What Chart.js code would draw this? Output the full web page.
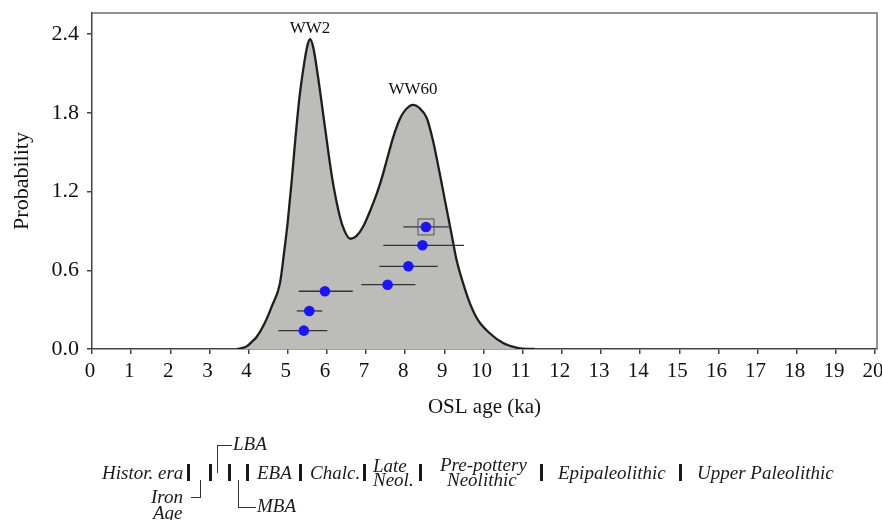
<!DOCTYPE html>
<html>
<head>
<meta charset="utf-8">
<script src="https://cdn.jsdelivr.net/npm/chart.js@4.4.1/dist/chart.umd.min.js"></script>
<style>
  html, body { margin:0; padding:0; background:#fff; }
  #wrap { position:relative; width:882px; height:520px; overflow:hidden; }
  #chart { position:absolute; left:0; top:0; }
  .per { position:absolute; font-family:'Liberation Serif','DejaVu Serif',serif; font-style:italic;
         font-size:19px; line-height:19px; color:#1a1a1a; white-space:nowrap; }
  .sep { position:absolute; width:2.8px; background:#1a1a1a; top:464px; height:17px; }
  .br  { position:absolute; border:0 solid #333; }
</style>
</head>
<body>
<div id="wrap">
  <canvas id="chart" width="882" height="520"></canvas>

  <!-- archaeological periods under the axis -->
  <span class="per" style="left:102px;top:463px">Histor. era</span>
  <span class="per" style="left:151px;top:487px">Iron</span>
  <span class="per" style="left:153px;top:503px">Age</span>
  <span class="per" style="left:233px;top:434px">LBA</span>
  <span class="per" style="left:257px;top:496px">MBA</span>
  <span class="per" style="left:257px;top:463px">EBA</span>
  <span class="per" style="left:310px;top:463px">Chalc.</span>
  <span class="per" style="left:373px;top:456px">Late</span>
  <span class="per" style="left:373px;top:470px">Neol.</span>
  <span class="per" style="left:440px;top:455px">Pre-pottery</span>
  <span class="per" style="left:447px;top:470px">Neolithic</span>
  <span class="per" style="left:558px;top:463px">Epipaleolithic</span>
  <span class="per" style="left:697px;top:463px">Upper Paleolithic</span>

  <div class="sep" style="left:187px"></div>
  <div class="sep" style="left:209px"></div>
  <div class="sep" style="left:228px"></div>
  <div class="sep" style="left:246px"></div>
  <div class="sep" style="left:299px"></div>
  <div class="sep" style="left:363px"></div>
  <div class="sep" style="left:419px"></div>
  <div class="sep" style="left:540px"></div>
  <div class="sep" style="left:679px"></div>

  <div class="br" style="left:217px;top:445px;width:14px;height:27px;border-left-width:1.3px;border-top-width:1.3px"></div>
  <div class="br" style="left:191px;top:480px;width:9px;height:17px;border-right-width:1.3px;border-bottom-width:1.3px"></div>
  <div class="br" style="left:238px;top:480px;width:17px;height:27px;border-left-width:1.3px;border-bottom-width:1.3px"></div>
</div>

<script>
const FONT = "'Liberation Serif', 'DejaVu Serif', serif";

// summed probability curve (ka, probability)
const ageGrid = [3.7, 3.8, 3.95, 4.1, 4.2, 4.4, 4.6, 4.8, 4.9, 5.0, 5.1, 5.2, 5.3, 5.4, 5.5, 5.57, 5.65, 5.77,
  5.95, 6.13, 6.33, 6.45, 6.6, 6.75, 6.92, 7.1, 7.28, 7.4, 7.53, 7.7, 7.86, 8.0, 8.2, 8.35, 8.55, 8.7,
  8.8, 8.9, 9.01, 9.18, 9.31, 9.48, 9.65, 9.86, 10.16, 10.5, 10.84, 11.0, 11.3];
const probDensity = [0, 0.005, 0.02, 0.06, 0.09, 0.19, 0.33, 0.5, 0.72, 0.97, 1.28, 1.62, 1.92, 2.14, 2.31, 2.36, 2.3, 2.08,
  1.69, 1.31, 1.01, 0.9, 0.84, 0.86, 0.93, 1.05, 1.19, 1.3, 1.44, 1.62, 1.75, 1.82, 1.86, 1.84, 1.76, 1.6,
  1.46, 1.31, 1.14, 0.88, 0.68, 0.5, 0.35, 0.22, 0.12, 0.045, 0.01, 0.002, 0];

// single OSL ages with 1-sigma range
const sampleAge  = [8.53, 8.44, 8.08, 7.55, 5.95, 5.55, 5.41];
const sampleProb = [0.93, 0.79, 0.63, 0.49, 0.44, 0.29, 0.14];
const sampleLow  = [7.95, 7.44, 7.34, 6.88, 5.28, 5.23, 4.76];
const sampleHigh = [9.17, 9.50, 8.83, 8.26, 6.66, 5.88, 6.01];
const boxedSample = [0];

const peakNames = ['WW2', 'WW60'];
const peakAge   = [5.57, 8.2];
const peakProb  = [2.44, 1.98];

const xTicks = [0,1,2,3,4,5,6,7,8,9,10,11,12,13,14,15,16,17,18,19,20];
const yTicks = [0, 0.6, 1.2, 1.8, 2.4];

const datasets = [];
datasets.push({
  type: 'scatter',
  data: sampleAge.map((a, i) => ({ x: a, y: sampleProb[i] })),
  backgroundColor: '#1a14ff', borderWidth: 0, pointRadius: 5.3, order: 0
});
datasets.push({
  type: 'scatter',
  data: boxedSample.map(i => ({ x: sampleAge[i], y: sampleProb[i] })),
  pointStyle: 'rect', pointRadius: 11.3, backgroundColor: 'rgba(0,0,0,0)',
  borderColor: '#555', borderWidth: 1, order: 1
});
sampleAge.forEach((a, i) => {
  datasets.push({
    type: 'line',
    data: [{ x: sampleLow[i], y: sampleProb[i] }, { x: sampleHigh[i], y: sampleProb[i] }],
    borderColor: '#333', borderWidth: 1.3, pointRadius: 0, order: 2
  });
});
datasets.push({
  type: 'line',
  data: ageGrid.map((a, i) => ({ x: a, y: probDensity[i] })),
  borderColor: '#1e1e1e', borderWidth: 2.3, backgroundColor: '#bcbcb8',
  fill: 'origin', pointRadius: 0, tension: 0.4, cubicInterpolationMode: 'monotone', order: 3
});

// gray frame on top and right
const framePlugin = {
  id: 'frame',
  afterDraw(c) {
    const { ctx, chartArea: a } = c;
    ctx.save();
    ctx.strokeStyle = '#707070';
    ctx.lineWidth = 1.5;
    ctx.beginPath();
    ctx.moveTo(a.left, a.top);
    ctx.lineTo(a.right, a.top);
    ctx.lineTo(a.right, a.bottom);
    ctx.stroke();
    ctx.restore();
  }
};

const peakLabels = {
  id: 'peakLabels',
  afterDatasetsDraw(c) {
    const { ctx, scales: { x, y } } = c;
    ctx.save();
    ctx.font = '17px ' + FONT;
    ctx.fillStyle = '#111';
    ctx.textAlign = 'center';
    ctx.textBaseline = 'middle';
    peakNames.forEach((n, i) => ctx.fillText(n, x.getPixelForValue(peakAge[i]), y.getPixelForValue(peakProb[i])));
    ctx.restore();
  }
};

new Chart(document.getElementById('chart'), {
  type: 'scatter',
  data: { datasets },
  plugins: [framePlugin, peakLabels],
  options: {
    responsive: false,
    animation: false,
    events: [],
    layout: { autoPadding: false, padding: { top: 13, right: 5, left: 0, bottom: 98 } },
    plugins: { legend: { display: false }, tooltip: { enabled: false } },
    scales: {
      x: {
        type: 'linear', min: 0, max: 20.05,
        afterBuildTicks: s => { s.ticks = xTicks.map(v => ({ value: v })); },
        afterFit: s => { s.height = 73; s.paddingLeft = 0; s.paddingRight = 0; },
        ticks: { font: { family: FONT, size: 21 }, color: '#111', padding: 5, maxRotation: 0, autoSkip: false, labelOffset: -2 },
        grid: { drawOnChartArea: false, drawTicks: true, tickLength: 5, color: '#444', lineWidth: 1.5 },
        border: { display: true, color: '#444', width: 1.5 },
        title: { display: true, text: 'OSL age (ka)', font: { family: FONT, size: 21 }, color: '#111', padding: { top: 0, bottom: 2 } }
      },
      y: {
        type: 'linear', min: 0, max: 2.56,
        afterBuildTicks: s => { s.ticks = yTicks.map(v => ({ value: v })); },
        afterFit: s => { s.width = 92; s.paddingTop = 0; s.paddingBottom = 0; },
        ticks: { font: { family: FONT, size: 22 }, color: '#111', padding: 8, callback: v => v.toFixed(1) },
        grid: { drawOnChartArea: false, drawTicks: true, tickLength: 5, color: '#444', lineWidth: 1.5 },
        border: { display: true, color: '#444', width: 1.5 },
        title: { display: true, text: 'Probability', font: { family: FONT, size: 22 }, color: '#111', padding: { top: 9, bottom: 0 } }
      }
    }
  }
});
</script>
</body>
</html>
